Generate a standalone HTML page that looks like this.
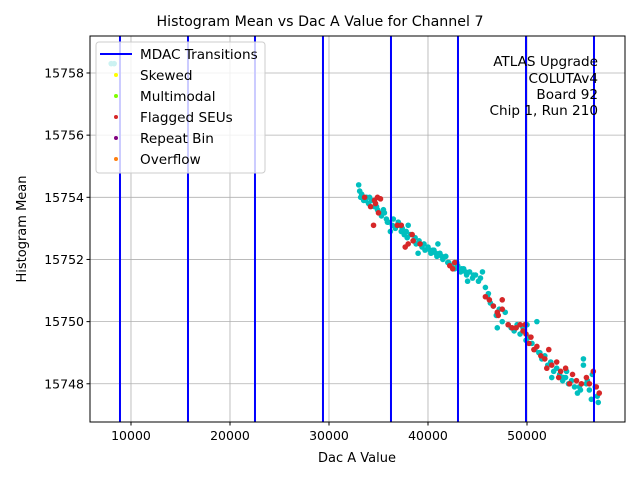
<!DOCTYPE html>
<html><head><meta charset="utf-8"><style>
html,body{margin:0;padding:0;background:#fff;}
svg text{font-family:"DejaVu Sans","Liberation Sans",sans-serif;fill:#000;}
</style></head><body>
<svg id="chart" width="640" height="480" xmlns="http://www.w3.org/2000/svg">
<rect x="0" y="0" width="640" height="480" fill="#fff"/>
<g id="grid"></g>
<g id="points"></g>
<g id="mdac"></g>
<rect x="90" y="36" width="535" height="386" fill="none" stroke="#000" stroke-width="1"/>
<g id="ticks"></g>
<text x="320" y="26" text-anchor="middle" font-size="14.2">Histogram Mean vs Dac A Value for Channel 7</text>
<text x="357" y="462" text-anchor="middle" font-size="13">Dac A Value</text>
<text transform="translate(26,229) rotate(-90)" text-anchor="middle" font-size="13">Histogram Mean</text>
<g font-size="13.6" text-anchor="end">
<text x="598" y="66">ATLAS Upgrade</text>
<text x="598" y="83">COLUTAv4</text>
<text x="598" y="99">Board 92</text>
<text x="598" y="115">Chip 1, Run 210</text>
</g>
<g id="legend">
<rect x="96" y="42" width="169" height="131" rx="3" fill="#fff" fill-opacity="0.8" stroke="#ccc"/>
<line x1="100" y1="54" x2="132" y2="54" stroke="#0000ff" stroke-width="2"/>
<text x="140" y="59" font-size="13.6">MDAC Transitions</text>
<circle cx="116" cy="75" r="2" fill="#ffff00"/>
<text x="140" y="80" font-size="13.6">Skewed</text>
<circle cx="116" cy="96" r="2" fill="#7fff00"/>
<text x="140" y="101" font-size="13.6">Multimodal</text>
<circle cx="116" cy="117" r="2" fill="#d62728"/>
<text x="140" y="122" font-size="13.6">Flagged SEUs</text>
<circle cx="116" cy="138" r="2" fill="#800080"/>
<text x="140" y="143" font-size="13.6">Repeat Bin</text>
<circle cx="116" cy="159" r="2" fill="#ff7f0e"/>
<text x="140" y="164" font-size="13.6">Overflow</text>
</g>
</svg>
<script>
const xTicks=[10000,20000,30000,40000,50000];
const yTicks=[15748,15750,15752,15754,15756,15758];
const mdacX=[8889,15758,22525,29393,36262,43030,49899,56768];
const cyanX=[33.0,33.1,33.2,33.5,33.8,34.0,34.3,34.6,34.9,35.1,35.3,35.5,35.8,36.0,36.4,36.7,37.0,37.3,37.6,37.9,38.2,38.5,38.8,39.1,39.4,39.7,40.0,40.3,40.6,40.9,41.2,41.5,41.8,42.1,42.4,42.7,43.0,43.3,43.6,43.9,44.2,44.5,44.8,45.1,45.5,45.8,46.0,46.3,46.6,46.9,47.2,47.5,47.8,48.1,48.4,48.7,49.0,49.3,49.6,49.9,50.2,50.5,50.8,51.0,51.2,51.5,51.8,52.1,52.4,52.7,53.0,53.3,53.6,53.9,54.2,54.5,54.8,55.1,55.4,55.7,55.7,56.0,56.3,56.6,56.9,57.1,57.2,36.2,38.0,39.0,41.0,44.0,47.0,50.0,52.5,54.0,56.5,8.0,8.3,33.3,33.7,34.1,34.8,35.6,36.5,37.1,37.8,38.7,39.6,40.2,40.8,41.4,42.0,42.9,43.4,44.6,45.3,46.1,48.9,51.3,53.7,55.3,56.1,35.9,37.4,40.5,43.8];
const cyanY=[15754.4,15754.2,15754.0,15753.9,15754.0,15753.8,15753.9,15753.7,15753.6,15753.5,15753.4,15753.6,15753.3,15753.2,15753.1,15753.0,15753.2,15752.9,15752.8,15752.7,15752.8,15752.6,15752.5,15752.6,15752.4,15752.3,15752.4,15752.2,15752.3,15752.1,15752.2,15752.0,15752.1,15751.9,15751.8,15751.7,15751.8,15751.6,15751.7,15751.5,15751.6,15751.4,15751.5,15751.3,15751.6,15751.1,15750.8,15750.6,15750.5,15750.2,15750.4,15750.0,15750.3,15749.9,15749.8,15749.7,15749.9,15749.6,15749.8,15749.4,15749.5,15749.3,15749.1,15750.0,15749.0,15748.8,15748.9,15748.6,15748.7,15748.4,15748.5,15748.3,15748.1,15748.2,15748.0,15748.1,15747.9,15747.7,15747.8,15748.8,15748.6,15748.0,15747.8,15748.3,15747.9,15747.6,15747.4,15752.9,15753.1,15752.2,15752.5,15751.3,15749.8,15749.9,15748.2,15748.4,15747.5,15758.3,15758.3,15754.1,15753.9,15754.0,15753.7,15753.5,15753.3,15753.1,15752.9,15752.7,15752.5,15752.3,15752.2,15752.1,15751.9,15751.9,15751.7,15751.5,15751.4,15750.9,15749.8,15749.0,15748.2,15747.9,15748.1,15753.2,15753.0,15752.3,15751.6];
const redX=[33.6,34.6,34.9,35.2,34.2,34.7,35.0,34.5,36.9,37.3,38.4,37.7,38.0,38.5,39.2,42.2,42.5,42.7,45.8,46.2,46.6,47.0,47.5,47.5,47.1,48.1,48.5,48.9,49.3,49.6,49.9,50.2,50.4,51.0,51.4,51.8,52.2,52.5,53.0,53.4,53.2,53.9,54.3,54.6,55.0,55.5,56.0,56.3,56.7,57.0,57.3,52.0,50.7,49.8];
const redY=[15754.0,15753.9,15754.0,15753.95,15753.7,15753.8,15753.5,15753.1,15753.1,15753.1,15752.8,15752.4,15752.5,15752.6,15752.5,15751.8,15751.7,15751.9,15750.8,15750.7,15750.5,15750.3,15750.7,15750.4,15750.2,15749.9,15749.8,15749.8,15749.9,15749.7,15749.6,15749.3,15749.5,15749.2,15748.9,15748.8,15749.1,15748.6,15748.7,15748.4,15748.2,15748.5,15748.0,15748.3,15748.1,15748.0,15748.2,15748.0,15748.4,15747.9,15747.7,15748.5,15749.1,15749.9];
const X0=90,X1=625,Y0=36,Y1=422,XMIN=5860,XMAX=59900,YMIN=15746.77,YMAX=15759.19;
const sx=v=>X0+(v-XMIN)/(XMAX-XMIN)*(X1-X0);
const sy=v=>Y1-(v-YMIN)/(YMAX-YMIN)*(Y1-Y0);
const NS='http://www.w3.org/2000/svg';
function mk(tag,attrs,parent){const e=document.createElementNS(NS,tag);for(const k in attrs)e.setAttribute(k,attrs[k]);parent.appendChild(e);return e;}
const grid=document.getElementById('grid'),ticks=document.getElementById('ticks'),pts=document.getElementById('points'),md=document.getElementById('mdac');
xTicks.forEach(t=>{const x=sx(t);
const g=mk('line',{x1:x,x2:x,y1:Y0,y2:Y1,stroke:'#b0b0b0','stroke-width':0.8},grid);


const tk=mk('line',{x1:x,x2:x,y1:Y1,y2:Y1+3.5,stroke:'#000'},ticks);


const tl=mk('text',{x:x,y:Y1+18,'text-anchor':'middle','font-size':12.5},ticks);tl.textContent=t;

});
yTicks.forEach(t=>{const y=sy(t);
const g=mk('line',{x1:X0,x2:X1,y1:y,y2:y,stroke:'#b0b0b0','stroke-width':0.8},grid);


const tk=mk('line',{x1:X0-3.5,x2:X0,y1:y,y2:y,stroke:'#000'},ticks);


const tl=mk('text',{x:X0-6,y:y+4.5,'text-anchor':'end','font-size':12.5},ticks);tl.textContent=t;

});
cyanX.forEach((v,i)=>{const c=mk('circle',{cx:sx(v*1000),cy:sy(cyanY[i]),r:2.8,fill:'#00bfbf'},pts);

});
redX.forEach((v,i)=>{const c=mk('circle',{cx:sx(v*1000),cy:sy(redY[i]),r:2.8,fill:'#d62728'},pts);

});
mdacX.forEach(v=>{const l=mk('line',{x1:sx(v),x2:sx(v),y1:Y0,y2:Y1,stroke:'#0000ff','stroke-width':2},md);

});
</script>
</body></html>
